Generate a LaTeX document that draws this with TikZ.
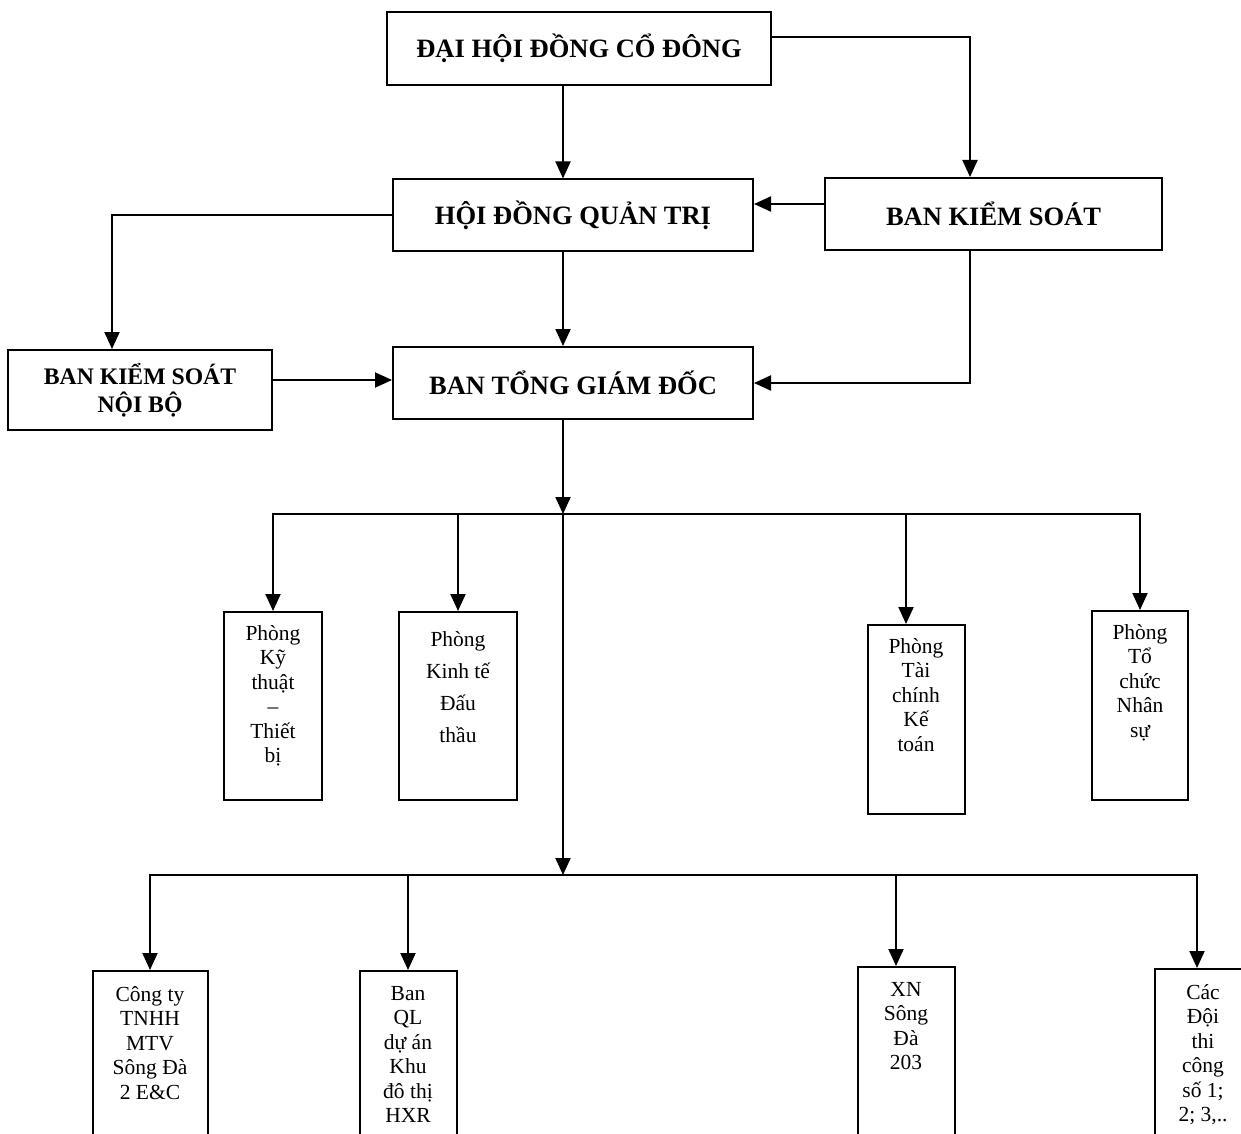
\documentclass[tikz,border=0pt]{standalone}
\usepackage{fontspec}
\setmainfont{Liberation Serif}
\usetikzlibrary{arrows.meta,positioning}

\begin{document}
\begin{tikzpicture}[
  x=1pt,
  y=-1pt,
  headbox/.style={draw=black,line width=2pt,inner sep=0pt,font=\bfseries\fontsize{26.5}{30}\selectfont},
  unitbox/.style={draw=black,line width=2pt,anchor=north,minimum height=188pt,inner sep=0pt},
  unittext/.style={align=center,inner sep=0pt,font=\fontsize{21.5}{24.5}\selectfont},
  link/.style={draw=black,line width=2pt},
  arrow/.style={link,-{Triangle[length=17pt,width=15pt]}}
]
  \useasboundingbox (0,0) rectangle (1241,1134);

  % Top management boxes.
  \node[headbox,minimum width=384pt,minimum height=73pt] (dhdcd) at (579,48.5) {ĐẠI HỘI ĐỒNG CỔ ĐÔNG};
  \node[headbox,minimum width=360pt,minimum height=71pt] (hdqt) at (573,215) {HỘI ĐỒNG QUẢN TRỊ};
  \node[headbox,minimum width=337pt,minimum height=72pt] (bks) at (993.5,214) {BAN KIỂM SOÁT};
  \node[headbox,minimum width=360pt,minimum height=72pt] (btgd) at (573,383) {BAN TỔNG GIÁM ĐỐC};
  \node[headbox,minimum width=264pt,minimum height=80pt,align=center,
        font=\bfseries\fontsize{23.7}{28}\selectfont] (bksnb) at (140,390) {BAN KIỂM SOÁT\\NỘI BỘ};

  % Departments.
  \node[unitbox,minimum width=98pt] (kttb) at (273,611) {};
  \node[unittext,below=14pt of kttb.north] (kttb-t) {Phòng\\Kỹ\\thuật\\–\\Thiết\\bị};
  \node[unitbox,minimum width=118pt] (ktdt) at (458,611) {};
  \node[unittext,font=\fontsize{21.5}{32}\selectfont,below=20pt of ktdt.north] (ktdt-t) {Phòng\\Kinh tế\\Đấu\\thầu};
  \node[unitbox,minimum width=97pt,minimum height=189pt] (tckt) at (916,624) {};
  \node[unittext,below=14pt of tckt.north] (tckt-t) {Phòng\\Tài\\chính\\Kế\\toán};
  \node[unitbox,minimum width=96pt,minimum height=189pt] (tcns) at (1140,610) {};
  \node[unittext,below=14pt of tcns.north] (tcns-t) {Phòng\\Tổ\\chức\\Nhân\\sự};

  % Member units (cut by the page bottom).
  \node[unitbox,minimum width=115pt,minimum height=200pt] (congty) at (150,970) {};
  \node[unittext,below=16pt of congty.north] (congty-t) {Công ty\\TNHH\\MTV\\Sông Đà\\2 E\&C};
  \node[unitbox,minimum width=97pt,minimum height=200pt] (banql) at (408,970) {};
  \node[unittext,below=16pt of banql.north] (banql-t) {Ban\\QL\\dự án\\Khu\\đô thị\\HXR};
  \node[unitbox,minimum width=97pt,minimum height=200pt] (xn) at (906,966) {};
  \node[unittext,below=16pt of xn.north] (xn-t) {XN\\Sông\\Đà\\203};
  \node[unitbox,minimum width=97pt,minimum height=200pt] (cacdoi) at (1203,968) {};
  \node[unittext,below=16pt of cacdoi.north] (cacdoi-t) {Các\\Đội\\thi\\công\\số 1;\\2; 3,..};

  % Spine and branch points.
  \coordinate (bus1) at (563,514);
  \coordinate (bus2) at (563,875);
  \coordinate (dhdcd-out) at (771,37);
  \coordinate (bks-in) at ([xshift=-23.5pt]bks.north);
  \coordinate (bks-out) at ([yshift=10pt]bks.west);
  \coordinate (bksnb-in) at ([xshift=-28pt]bksnb.north);
  \coordinate (bksnb-out) at ([yshift=10pt]bksnb.east);
  \coordinate (tckt-in) at ([xshift=-10pt]tckt.north);
  \coordinate (xn-in) at ([xshift=-10pt]xn.north);
  \coordinate (cacdoi-in) at ([xshift=-6pt]cacdoi.north);

  \draw[arrow] (dhdcd.south -| bus1) -- (hdqt.north -| bus1);
  \draw[arrow] (hdqt.south -| bus1) -- (btgd.north -| bus1);
  \draw[arrow] (dhdcd-out) -| (bks-in);
  \draw[arrow] (bks-out) -- (bks-out -| hdqt.east);
  \draw[arrow] (hdqt.west) -| (bksnb-in);
  \draw[arrow] (bksnb-out) -- (bksnb-out -| btgd.west);
  \draw[arrow] (bks.south -| bks-in) |- (btgd.east);
  \draw[arrow] (btgd.south -| bus1) -- (bus1);
  \draw[arrow] (bus1) -- (bus2);

  % Departments bus.
  \draw[arrow] (bus1) -| (kttb.north);
  \draw[arrow] (bus1) -| (tcns.north);
  \draw[arrow] (bus1 -| ktdt.north) -- (ktdt.north);
  \draw[arrow] (bus1 -| tckt-in) -- (tckt-in);

  % Member units bus.
  \draw[arrow] (bus2) -| (congty.north);
  \draw[arrow] (bus2) -| (cacdoi-in);
  \draw[arrow] (bus2 -| banql.north) -- (banql.north);
  \draw[arrow] (bus2 -| xn-in) -- (xn-in);
\end{tikzpicture}
\end{document}
